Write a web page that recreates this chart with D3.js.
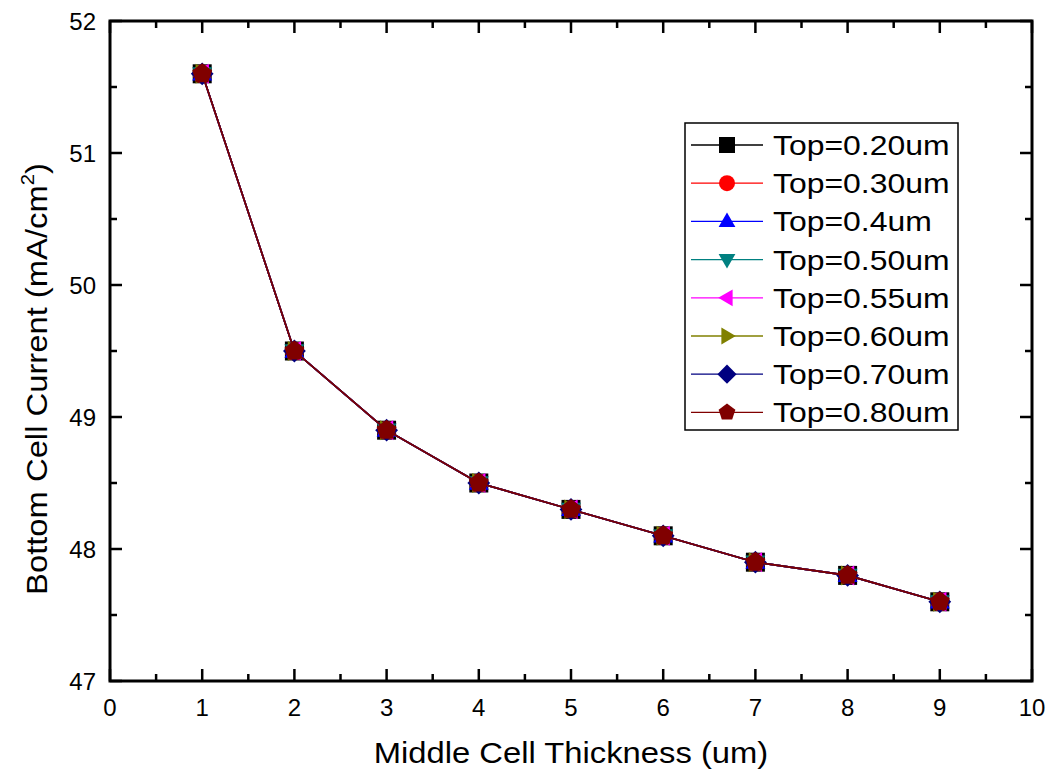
<!DOCTYPE html>
<html><head><meta charset="utf-8">
<script src="https://cdn.jsdelivr.net/npm/d3@7"></script>
<style>body{margin:0;background:#fff}svg{display:block}text{font-family:"Liberation Sans",Arial,sans-serif;fill:#000}</style>
</head><body><svg id="c" width="1061" height="774"></svg>
<script>
const thickness = [1,2,3,4,5,6,7,8,9];
const seriesNames = ["Top=0.20um","Top=0.30um","Top=0.4um","Top=0.50um","Top=0.55um","Top=0.60um","Top=0.70um","Top=0.80um"];
const seriesColors = ["#000000","#ff0000","#0000ff","#008080","#ff00ff","#808000","#000080","#800000"];
const seriesShapes = ["square","circle","triangleUp","triangleDown","triangleLeft","triangleRight","diamond","pentagon"];
const current020 = [51.6,49.5,48.9,48.5,48.3,48.1,47.9,47.8,47.6];
const current030 = [51.6,49.5,48.9,48.5,48.3,48.1,47.9,47.8,47.6];
const current040 = [51.6,49.5,48.9,48.5,48.3,48.1,47.9,47.8,47.6];
const current050 = [51.6,49.5,48.9,48.5,48.3,48.1,47.9,47.8,47.6];
const current055 = [51.6,49.5,48.9,48.5,48.3,48.1,47.9,47.8,47.6];
const current060 = [51.6,49.5,48.9,48.5,48.3,48.1,47.9,47.8,47.6];
const current070 = [51.6,49.5,48.9,48.5,48.3,48.1,47.9,47.8,47.6];
const current080 = [51.6,49.5,48.9,48.5,48.3,48.1,47.9,47.8,47.6];
const seriesValues = [current020,current030,current040,current050,current055,current060,current070,current080];
const xTicks = [0,1,2,3,4,5,6,7,8,9,10];
const yTicks = [47,48,49,50,51,52];

const svg = d3.select("#c");
const L=110,R=1032,T=21,B=681;
const x = d3.scaleLinear().domain([0,10]).range([L,R]);
const y = d3.scaleLinear().domain([47,52]).range([B,T]);
const SX = 1.13;

function shapePath(shape, r){
  const pts = (arr)=>"M"+arr.map(p=>p.join(",")).join("L")+"Z";
  switch(shape){
    case "square": return pts([[-r,-r],[r,-r],[r,r],[-r,r]]);
    case "circle": return `M${r},0A${r},${r},0,1,1,${-r},0A${r},${r},0,1,1,${r},0Z`;
    case "triangleUp": return pts([[0,-r*1.1],[r*1.05,r*0.7],[-r*1.05,r*0.7]]);
    case "triangleDown": return pts([[0,r*1.1],[r*1.05,-r*0.7],[-r*1.05,-r*0.7]]);
    case "triangleLeft": return pts([[-r*1.1,0],[r*0.7,-r*1.05],[r*0.7,r*1.05]]);
    case "triangleRight": return pts([[r*1.1,0],[-r*0.7,-r*1.05],[-r*0.7,r*1.05]]);
    case "diamond": return pts([[0,-r*1.2],[r*1.2,0],[0,r*1.2],[-r*1.2,0]]);
    case "pentagon": {
      const a=[]; for(let i=0;i<5;i++){const t=-Math.PI/2+i*2*Math.PI/5; a.push([ (r*1.1*Math.cos(t)).toFixed(2),(r*1.1*Math.sin(t)).toFixed(2)]);} return pts(a);
    }
  }
}

// series
const line = d3.line().x((d,i)=>x(thickness[i])).y(d=>y(d));
seriesValues.forEach((vals,si)=>{
  svg.append("path").attr("d",line(vals)).attr("fill","none").attr("stroke",seriesColors[si]).attr("stroke-width",1.6);
  svg.append("g").selectAll("path").data(vals).join("path")
    .attr("transform",(d,i)=>`translate(${x(thickness[i])},${y(d)})`)
    .attr("d",shapePath(seriesShapes[si],9.5))
    .attr("fill",seriesColors[si]);
});

// axes
const minorX = d3.range(0.5,10,1);
const minorY = d3.range(47.5,52,1);
const g = svg.append("g");
const maj=12, mn=7;
xTicks.forEach(v=>{ g.append("line").attr("x1",x(v)).attr("x2",x(v)).attr("y1",B).attr("y2",B-maj);
  g.append("line").attr("x1",x(v)).attr("x2",x(v)).attr("y1",T).attr("y2",T+maj);});
minorX.forEach(v=>{ g.append("line").attr("x1",x(v)).attr("x2",x(v)).attr("y1",B).attr("y2",B-mn);
  g.append("line").attr("x1",x(v)).attr("x2",x(v)).attr("y1",T).attr("y2",T+mn);});
yTicks.forEach(v=>{ g.append("line").attr("x1",L).attr("x2",L+maj).attr("y1",y(v)).attr("y2",y(v));
  g.append("line").attr("x1",R).attr("x2",R-maj).attr("y1",y(v)).attr("y2",y(v));});
minorY.forEach(v=>{ g.append("line").attr("x1",L).attr("x2",L+mn).attr("y1",y(v)).attr("y2",y(v));
  g.append("line").attr("x1",R).attr("x2",R-mn).attr("y1",y(v)).attr("y2",y(v));});
g.selectAll("line").attr("stroke","#000").attr("stroke-width",2.5);
svg.append("rect").attr("x",L).attr("y",T).attr("width",R-L).attr("height",B-T).attr("fill","none").attr("stroke","#000").attr("stroke-width",3);

svg.append("g").selectAll("text").data(xTicks).join("text")
  .attr("x",d=>x(d)).attr("y",B+35).attr("text-anchor","middle").attr("font-size",24).text(d=>d);
svg.append("g").selectAll("text").data(yTicks).join("text")
  .attr("x",L-14).attr("y",d=>y(d)+9).attr("text-anchor","end").attr("font-size",24).text(d=>d);

svg.append("text").attr("transform",`translate(571,763) scale(${SX},1)`).attr("text-anchor","middle").attr("font-size",29).text("Middle Cell Thickness (um)");
const yt = svg.append("text").attr("transform",`translate(47,379) rotate(-90) scale(${SX},1)`).attr("text-anchor","middle").attr("font-size",29);
yt.append("tspan").text("Bottom Cell Current (mA/cm");
yt.append("tspan").attr("font-size",18).attr("dy",-13).text("2");
yt.append("tspan").attr("dy",13).text(")");

// legend
const lg = svg.append("g");
lg.append("rect").attr("x",685).attr("y",123).attr("width",273).attr("height",307).attr("fill","#fff").attr("stroke","#000").attr("stroke-width",1.5);
seriesNames.forEach((n,i)=>{
  const cy = 145 + i*38.2;
  lg.append("line").attr("x1",691).attr("x2",763).attr("y1",cy).attr("y2",cy).attr("stroke",seriesColors[i]).attr("stroke-width",1.3);
  lg.append("path").attr("transform",`translate(727,${cy})`).attr("d",shapePath(seriesShapes[i],8)).attr("fill",seriesColors[i]);
  lg.append("text").attr("transform",`translate(773,${cy+10}) scale(1.14,1)`).attr("font-size",28).text(n);
});
</script></body></html>
